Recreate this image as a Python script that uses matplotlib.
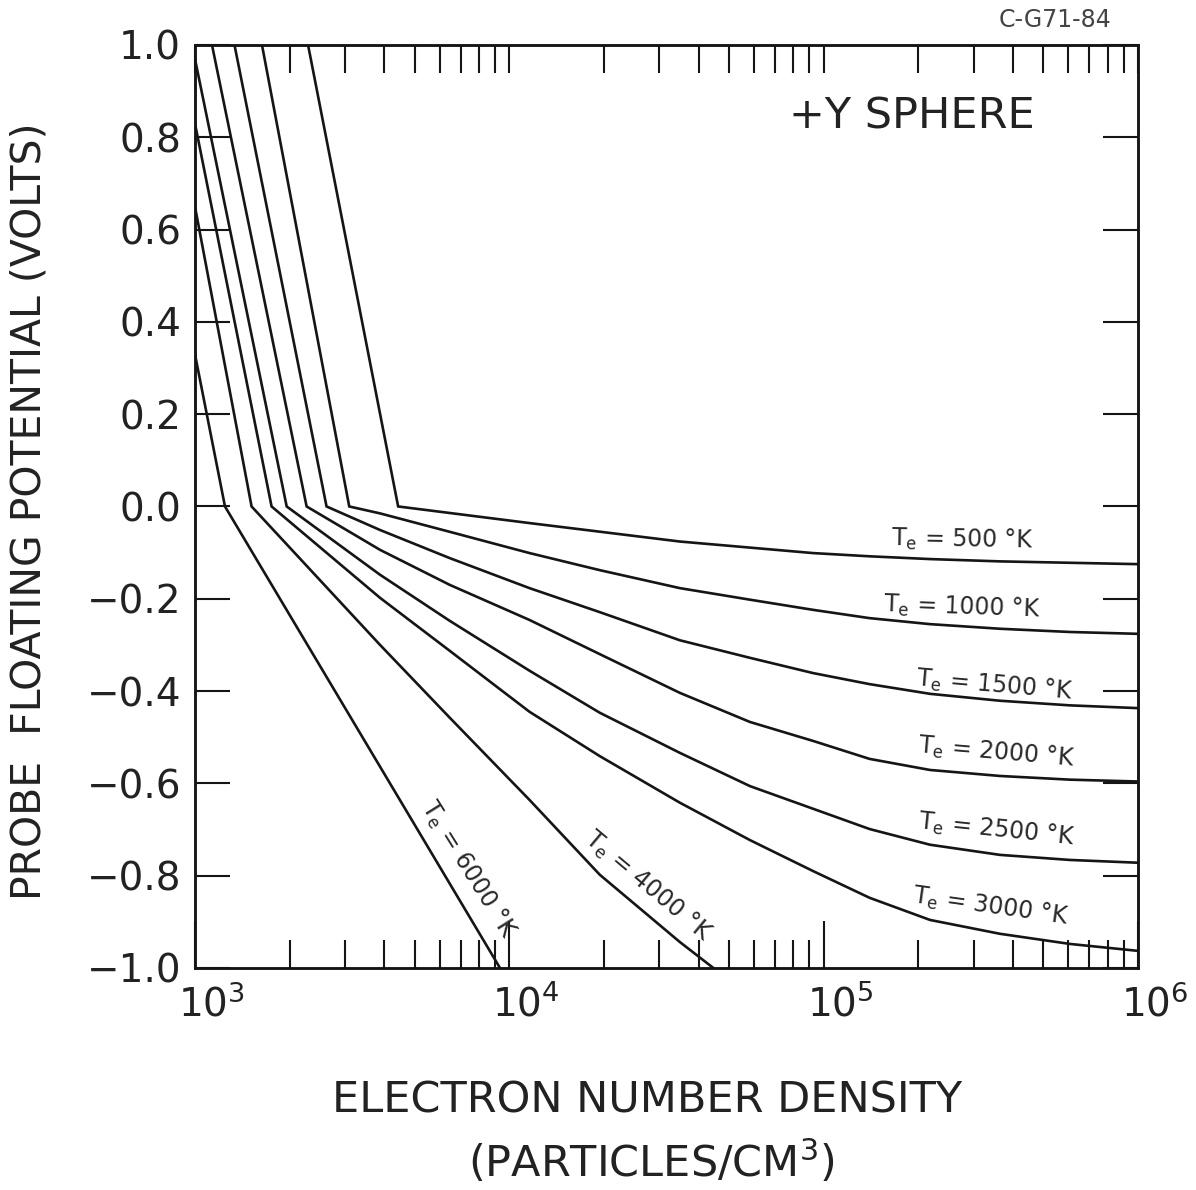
import numpy as np
import matplotlib.pyplot as plt
from matplotlib.ticker import FixedLocator, LogLocator, NullFormatter
from matplotlib.transforms import ScaledTranslation

plt.rcParams['font.family'] = 'DejaVu Sans'
plt.rcParams['mathtext.fontset'] = 'dejavusans'

INK = '#151515'

# electron temperature of each curve (deg K)
temps = [500, 1000, 1500, 2000, 2500, 3000, 4000, 6000]

# electron number density (particles/cm^3) vs probe floating potential (volts)
n_500 = [2290, 4430, 11600, 34900, 92500, 140000, 218000, 364000, 1.0e6]
v_500 = [1.0, 0.0, -0.036, -0.076, -0.101, -0.108, -0.114, -0.119, -0.125]

n_1000 = [1634, 3096, 3880, 6470, 11600, 19400, 34900, 58300, 92500, 140000, 218000, 364000, 608000, 1.0e6]
v_1000 = [1.0, 0.0, -0.015, -0.055, -0.101, -0.138, -0.177, -0.202, -0.224, -0.242, -0.255, -0.265, -0.272, -0.276]

n_1500 = [1336, 2622, 3880, 6470, 11600, 19400, 34900, 58300, 92500, 140000, 218000, 364000, 608000, 1.0e6]
v_1500 = [1.0, 0.0, -0.051, -0.112, -0.177, -0.229, -0.290, -0.328, -0.361, -0.385, -0.406, -0.421, -0.431, -0.437]

n_2000 = [1133, 2266, 3880, 6470, 11600, 19400, 34900, 58300, 92500, 140000, 218000, 364000, 608000, 1.0e6]
v_2000 = [1.0, 0.0, -0.094, -0.170, -0.246, -0.320, -0.404, -0.467, -0.508, -0.547, -0.571, -0.584, -0.592, -0.596]

n_2500 = [1000, 1958, 3880, 6470, 11600, 19400, 34900, 58300, 92500, 140000, 218000, 364000, 608000, 1.0e6]
v_2500 = [0.97, 0.0, -0.148, -0.248, -0.356, -0.447, -0.534, -0.606, -0.655, -0.699, -0.733, -0.755, -0.766, -0.772]

n_3000 = [1000, 1753, 3880, 6470, 11600, 19400, 34900, 58300, 92500, 140000, 218000, 364000, 608000, 1.0e6]
v_3000 = [0.83, 0.0, -0.198, -0.313, -0.445, -0.541, -0.642, -0.723, -0.790, -0.848, -0.896, -0.926, -0.948, -0.963]

n_4000 = [1000, 1514, 3880, 6470, 11600, 19400, 34900, 44570]
v_4000 = [0.65, 0.0, -0.300, -0.458, -0.636, -0.798, -0.944, -1.0]

n_6000 = [1000, 1246, 9340]
v_6000 = [0.33, 0.0, -1.0]

densities = [n_500, n_1000, n_1500, n_2000, n_2500, n_3000, n_4000, n_6000]
potentials = [v_500, v_1000, v_1500, v_2000, v_2500, v_3000, v_4000, v_6000]

# where each curve is labelled: (density, potential, rotation)
label_n = [2.76e5, 2.76e5, 3.5e5, 3.55e5, 3.55e5, 3.4e5, 2.76e4, 7.4e3]
label_v = [-0.072, -0.218, -0.387, -0.532, -0.701, -0.866, -0.824, -0.788]
label_rot = [-1, -2, -5, -5, -6, -8, -40, -58]

x_ticks = [1e3, 1e4, 1e5, 1e6]
x_tick_labels = ['$10^3$', '$10^4$', '$10^5$', '$10^6$']
y_ticks = [-1.0, -0.8, -0.6, -0.4, -0.2, 0.0, 0.2, 0.4, 0.6, 0.8, 1.0]
y_tick_labels = ['\u22121.0', '\u22120.8', '\u22120.6', '\u22120.4', '\u22120.2',
                 '0.0', '0.2', '0.4', '0.6', '0.8', '1.0']

fig = plt.figure(figsize=(11.96, 11.90), dpi=100)
ax = fig.add_axes([0.163, 0.1866, 0.7885, 0.7756])

for n, v in zip(densities, potentials):
    ax.plot(n, v, color=INK, lw=1.9, solid_joinstyle='miter')

for t, x, y, r in zip(temps, label_n, label_v, label_rot):
    ax.text(x, y, r'T$_\mathrm{e}$ = %d °K' % t, fontsize=17, color='#2a2a2a',
            rotation=r, rotation_mode='anchor', ha='center', va='center')

ax.set_xscale('log')
ax.set_xlim(1e3, 1e6)
ax.set_ylim(-1.0, 1.0)

ax.xaxis.set_major_locator(FixedLocator(x_ticks))
ax.set_xticklabels(x_tick_labels)
ax.xaxis.set_minor_locator(LogLocator(base=10, subs=np.arange(2, 10)))
ax.xaxis.set_minor_formatter(NullFormatter())
ax.set_yticks(y_ticks)
ax.set_yticklabels(y_tick_labels)

ax.tick_params(which='both', direction='in', colors=INK, labelcolor='#222222')
ax.tick_params(axis='x', which='major', length=34, width=1.5, labelsize=28, pad=12, top=False)
ax.tick_params(axis='x', which='minor', length=20, width=1.5, top=False)
ax.tick_params(axis='y', which='major', length=25, width=1.5, labelsize=28, pad=10, right=True)

# labels sit a little right of their decade tick
for lab in ax.get_xticklabels():
    lab.set_transform(lab.get_transform() + ScaledTranslation(12 / 72, 0, fig.dpi_scale_trans))

# short ticks along the top edge
top = ax.twiny()
top.set_xscale('log')
top.set_xlim(1e3, 1e6)
top.xaxis.set_minor_locator(LogLocator(base=10, subs=np.arange(2, 10)))
top.xaxis.set_minor_formatter(NullFormatter())
top.tick_params(axis='x', which='both', direction='in', length=20, width=1.5,
                colors=INK, labeltop=False)

for a in (ax, top):
    for s in a.spines.values():
        s.set_linewidth(1.8)
        s.set_color(INK)

fig.text(0.025, 0.570, 'PROBE  FLOATING POTENTIAL (VOLTS)', rotation=90,
         ha='center', va='center', fontsize=29.5, color='#222222')
fig.text(0.541, 0.0756, 'ELECTRON NUMBER DENSITY', ha='center', va='center',
         fontsize=31, color='#222222')
fig.text(0.545, 0.023, '(PARTICLES/CM$^3$)', ha='center', va='center',
         fontsize=31, color='#222222')
fig.text(0.7625, 0.9017, '+Y SPHERE', ha='center', va='center', fontsize=31, color='#222222')
fig.text(0.882, 0.983, 'C-G71-84', ha='center', va='center', fontsize=17, color='#444444')

fig.savefig('out.png', dpi=100)
